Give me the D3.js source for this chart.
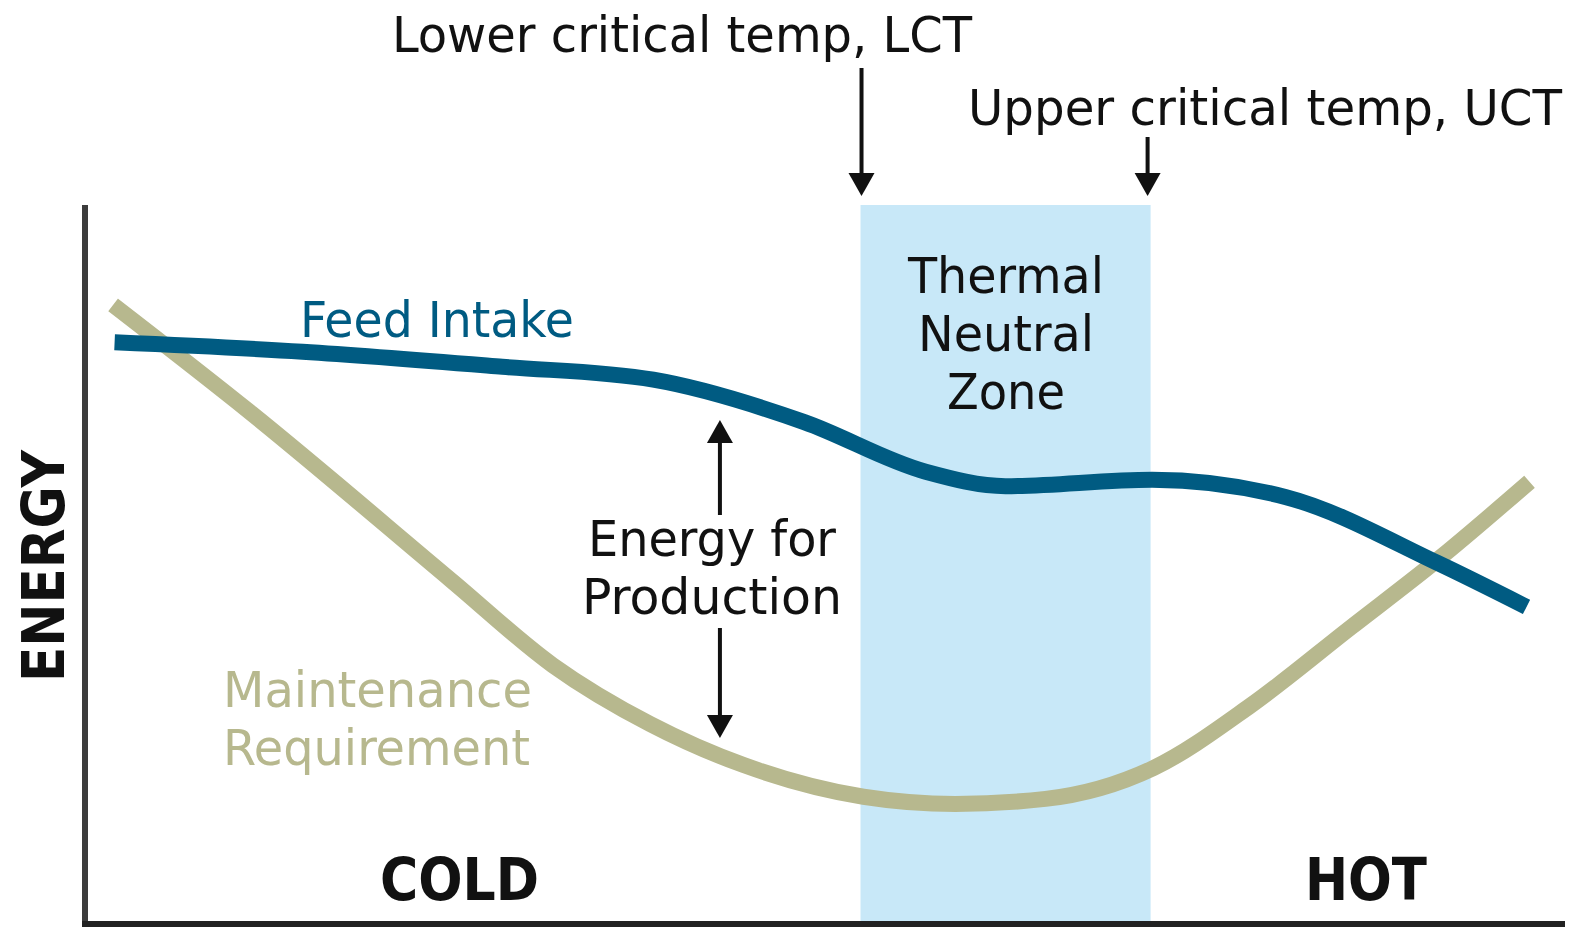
<!DOCTYPE html>
<html>
<head>
<meta charset="utf-8">
<script src="https://cdn.jsdelivr.net/npm/d3@7"></script>
<style>
  body { margin: 0; background: #fff; }
  svg text { font-family: "DejaVu Sans Condensed", "Liberation Sans Narrow", "DejaVu Sans", sans-serif; }
</style>
</head>
<body>
<div id="wrapper"></div>
<script>
// temperature (0 = coldest, 100 = hottest) vs energy (0-100)
const feedTemp = [2.0, 14.7, 28.2, 38.4, 48.6, 56.8, 62.2, 72.1, 81.1, 91.4, 97.4];
const feedEnergy = [80.9, 79.6, 77.5, 75.7, 69.8, 62.9, 60.9, 61.8, 59.4, 50.2, 44.1];

const maintTemp = [1.9, 11.2, 24.8, 31.6, 38.2, 44.5, 52.6, 58.8, 64.9, 72.2, 78.7, 85.5, 91.6, 97.6];
const maintEnergy = [86.1, 71.1, 47.7, 36.0, 27.8, 22.1, 17.7, 16.7, 17.4, 21.7, 30.3, 41.2, 51.0, 61.5];

const lowerCritical = 52.4;
const upperCritical = 72.0;
const productionTemp = 42.9;

const lctLabel = "Lower critical temp, LCT";
const uctLabel = "Upper critical temp, UCT";
const zoneLabel = ["Thermal", "Neutral", "Zone"];
const productionLabel = ["Energy for", "Production"];
const feedLabel = "Feed Intake";
const maintLabel = ["Maintenance", "Requirement"];
const yLabel = "ENERGY";
const xLabels = ["COLD", "HOT"];

function drawChart() {
    const dimensions = {
        width: 1576,
        height: 929,
        margin: { top: 205, right: 11, bottom: 5, left: 85 },
    };

    const svg = d3.select("#wrapper").append("svg")
        .attr("width", dimensions.width)
        .attr("height", dimensions.height);

    const xScale = d3.scaleLinear()
        .domain([0, 100])
        .range([dimensions.margin.left, dimensions.width - dimensions.margin.right]);
    const yScale = d3.scaleLinear()
        .domain([0, 100])
        .range([dimensions.height - dimensions.margin.bottom, dimensions.margin.top]);

    const ink = "#111";
    const blue = "#005b82";
    const beige = "#b7b88e";

    // thermal neutral zone
    svg.append("rect")
        .attr("x", xScale(lowerCritical))
        .attr("y", yScale(100))
        .attr("width", xScale(upperCritical) - xScale(lowerCritical))
        .attr("height", yScale(0) - yScale(100))
        .attr("fill", "#c8e8f8");

    // axes
    svg.append("line")
        .attr("x1", xScale(0)).attr("x2", xScale(0))
        .attr("y1", yScale(100)).attr("y2", yScale(0) + 3)
        .attr("stroke", "#3c3c3c").attr("stroke-width", 6);
    svg.append("line")
        .attr("x1", xScale(0) - 3).attr("x2", xScale(100))
        .attr("y1", yScale(0)).attr("y2", yScale(0))
        .attr("stroke", "#222").attr("stroke-width", 6);

    // curves
    const line = d3.line()
        .x(d => xScale(d[0]))
        .y(d => yScale(d[1]))
        .curve(d3.curveMonotoneX);

    svg.append("path")
        .datum(d3.zip(maintTemp, maintEnergy))
        .attr("d", line)
        .attr("fill", "none")
        .attr("stroke", beige)
        .attr("stroke-width", 16);
    svg.append("path")
        .datum(d3.zip(feedTemp, feedEnergy))
        .attr("d", line)
        .attr("fill", "none")
        .attr("stroke", blue)
        .attr("stroke-width", 16);

    // arrows
    const arrow = (x, yFrom, yTip) => {
        const dir = yTip > yFrom ? 1 : -1;
        const headLen = 23, headHalf = 13;
        const base = yTip - dir * headLen;
        svg.append("line")
            .attr("x1", x).attr("x2", x)
            .attr("y1", yFrom).attr("y2", base + dir * 2)
            .attr("stroke", ink).attr("stroke-width", 4);
        svg.append("path")
            .attr("d", `M${x - headHalf},${base}L${x + headHalf},${base}L${x},${yTip}Z`)
            .attr("fill", ink);
    };
    arrow(xScale(lowerCritical) + 1, 68, 196);
    arrow(xScale(upperCritical) - 3, 137, 196);
    arrow(xScale(productionTemp), 515, 420);
    arrow(xScale(productionTemp), 628, 738);

    // labels
    const label = (txt, x, y, opts = {}) => svg.append("text")
        .attr("x", x).attr("y", y)
        .attr("font-size", opts.size || 50)
        .attr("font-weight", opts.weight || "normal")
        .attr("fill", opts.color || ink)
        .attr("text-anchor", opts.anchor || "start")
        .attr("textLength", opts.len)
        .attr("lengthAdjust", "spacingAndGlyphs")
        .text(txt);

    label(lctLabel, 392, 52, { len: 580 });
    label(uctLabel, 968, 125, { len: 594 });
    label(feedLabel, 300, 337, { len: 274, color: blue });

    const zoneLens = [196, 176, 118];
    zoneLabel.forEach((t, i) => label(t, 1006, 293 + i * 58, { anchor: "middle", len: zoneLens[i] }));

    const prodLens = [248, 260];
    productionLabel.forEach((t, i) => label(t, 712, 556 + i * 58, { anchor: "middle", len: prodLens[i] }));

    const maintLens = [309, 307];
    maintLabel.forEach((t, i) => label(t, 223, 707 + i * 58, { len: maintLens[i], color: beige }));

    label(xLabels[0], 380, 900, { size: 58, weight: "bold", len: 159 });
    label(xLabels[1], 1305, 900, { size: 58, weight: "bold", len: 122 });

    svg.append("text")
        .attr("transform", "translate(64,566) rotate(-90)")
        .attr("text-anchor", "middle")
        .attr("font-size", 58)
        .attr("font-weight", "bold")
        .attr("fill", ink)
        .attr("textLength", 232)
        .attr("lengthAdjust", "spacingAndGlyphs")
        .text(yLabel);
}

drawChart();
</script>
</body>
</html>
